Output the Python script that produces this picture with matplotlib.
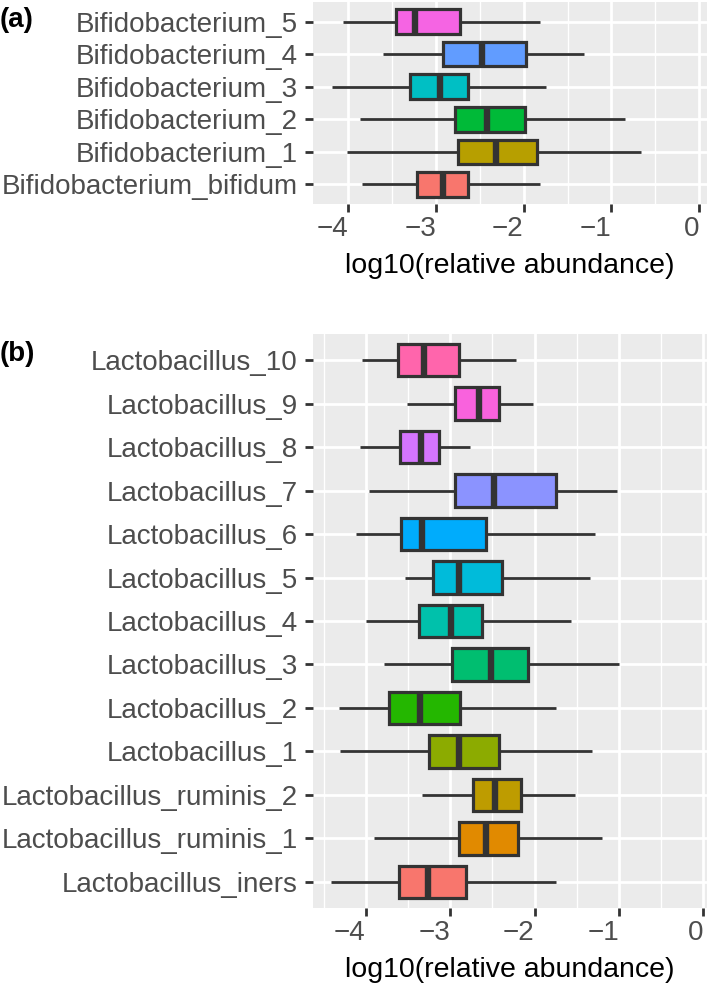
import matplotlib
matplotlib.use("Agg")
import matplotlib.pyplot as plt
from matplotlib.ticker import MultipleLocator

plt.rcParams['font.family'] = ['Liberation Sans', 'DejaVu Sans']

# ---------------- Panel (a) data (bottom -> top) ----------------
bifido_names = ["Bifidobacterium_bifidum", "Bifidobacterium_1", "Bifidobacterium_2",
                "Bifidobacterium_3", "Bifidobacterium_4", "Bifidobacterium_5"]
bifido_whislo = [-3.84, -4.01, -3.87, -4.18, -3.60, -4.06]
bifido_q1     = [-3.22, -2.75, -2.78, -3.30, -2.92, -3.46]
bifido_med    = [-2.92, -2.31, -2.42, -2.95, -2.48, -3.24]
bifido_q3     = [-2.64, -1.85, -1.99, -2.64, -1.97, -2.72]
bifido_whishi = [-1.81, -0.66, -0.85, -1.75, -1.31, -1.81]
bifido_colors = ["#F8766D", "#B79F00", "#00BA38", "#00BFC4", "#619CFF", "#F564E3"]

# ---------------- Panel (b) data (bottom -> top) ----------------
lacto_names = ["Lactobacillus_iners", "Lactobacillus_ruminis_1", "Lactobacillus_ruminis_2",
               "Lactobacillus_1", "Lactobacillus_2", "Lactobacillus_3", "Lactobacillus_4",
               "Lactobacillus_5", "Lactobacillus_6", "Lactobacillus_7", "Lactobacillus_8",
               "Lactobacillus_9", "Lactobacillus_10"]
lacto_whislo = [-4.41, -3.90, -3.33, -4.30, -4.32, -3.78, -4.00, -3.53, -4.11, -3.96, -4.07, -3.51, -4.05]
lacto_q1     = [-3.61, -2.90, -2.73, -3.25, -3.73, -2.98, -3.37, -3.20, -3.58, -2.94, -3.59, -2.94, -3.62]
lacto_med    = [-3.26, -2.58, -2.47, -2.90, -3.36, -2.52, -2.99, -2.90, -3.33, -2.48, -3.35, -2.66, -3.31]
lacto_q3     = [-2.81, -2.19, -2.16, -2.42, -2.88, -2.08, -2.62, -2.39, -2.58, -1.74, -3.13, -2.42, -2.90]
lacto_whishi = [-1.75, -1.20, -1.52, -1.32, -1.74, -1.00, -1.57, -1.34, -1.28, -1.02, -2.77, -2.02, -2.22]
lacto_colors = ["#F8766D", "#E18A00", "#BE9C00", "#8CAB00", "#24B700", "#00BE70", "#00C1AB",
                "#00BBDA", "#00ACFC", "#8B93FF", "#D575FE", "#F962DD", "#FF65AC"]

x_ticks = [-4, -3, -2, -1, 0]
x_ticklabels = ["\u22124", "\u22123", "\u22122", "\u22121", "0"]
x_label = "log10(relative abundance)"

EDGE = "#333333"
FS = 20


def draw_panel(ax, names, lo, q1, med, q3, hi, colors, xlim):
    stats = []
    for i in range(len(names)):
        stats.append(dict(whislo=lo[i], q1=q1[i], med=med[i], q3=q3[i], whishi=hi[i],
                          fliers=[], label=names[i]))
    pos = list(range(1, len(names) + 1))
    bp = ax.bxp(stats, positions=pos, widths=0.75, orientation='horizontal',
                patch_artist=True, showcaps=False, showfliers=False,
                boxprops=dict(edgecolor=EDGE, linewidth=2.3),
                whiskerprops=dict(color=EDGE, linewidth=2.0, solid_capstyle='butt'),
                medianprops=dict(color=EDGE, linewidth=4.6, solid_capstyle='butt'))
    for patch, c in zip(bp['boxes'], colors):
        patch.set_facecolor(c)
        patch.set_joinstyle('miter')
    ax.set_facecolor("#EBEBEB")
    for s in ax.spines.values():
        s.set_visible(False)
    ax.set_xlim(*xlim)
    ax.set_ylim(0.4, len(names) + 0.6)
    ax.set_xticks(x_ticks, labels=x_ticklabels, ha='right')
    ax.xaxis.set_minor_locator(MultipleLocator(0.5))
    ax.set_yticks(pos, labels=names)
    ax.set_axisbelow(True)
    ax.grid(True, which='major', axis='both', color='white', linewidth=2.0)
    ax.grid(True, which='minor', axis='x', color='white', linewidth=1.0)
    ax.tick_params(axis='both', which='major', length=5.5, width=2.0, color=EDGE,
                   labelsize=FS, labelcolor="#4D4D4D")
    ax.tick_params(axis='y', pad=5.5)
    ax.tick_params(axis='x', pad=3)
    ax.tick_params(axis='x', which='minor', length=0)
    ax.set_xlabel(x_label, fontsize=FS + 0.5, color='black', labelpad=8)


fig = plt.figure(figsize=(7.09, 9.91), dpi=100)
ax_a = fig.add_axes([313 / 709, 1 - 204 / 991, (707 - 313) / 709, (204 - 2) / 991])
ax_b = fig.add_axes([313 / 709, 1 - 908 / 991, (707 - 313) / 709, (908 - 334) / 991])

draw_panel(ax_a, bifido_names, bifido_whislo, bifido_q1, bifido_med, bifido_q3,
           bifido_whishi, bifido_colors, (-4.4, 0.088))
draw_panel(ax_b, lacto_names, lacto_whislo, lacto_q1, lacto_med, lacto_q3,
           lacto_whishi, lacto_colors, (-4.625, 0.044))

fig.text(0.0, 1 - 20 / 991, "(a)", fontsize=FS, fontweight='bold', va='center', ha='left')
fig.text(0.0, 1 - 354 / 991, "(b)", fontsize=FS, fontweight='bold', va='center', ha='left')

fig.savefig("out.png", dpi=100, facecolor='white')
